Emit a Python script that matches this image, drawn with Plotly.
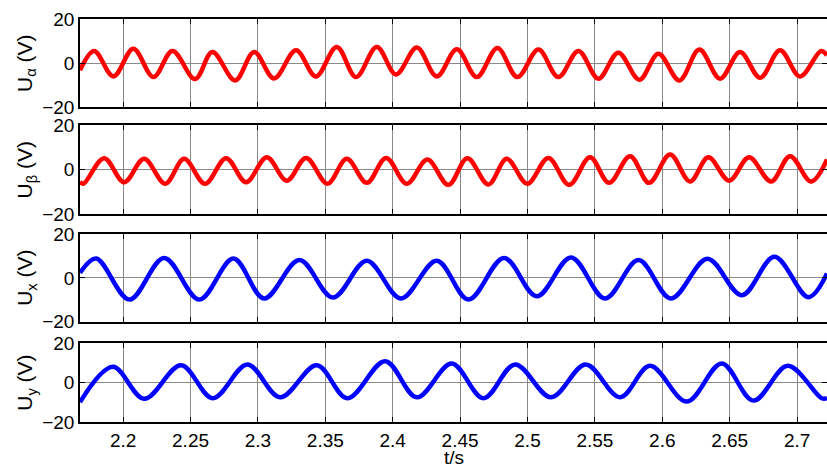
import plotly.graph_objects as go

# ---- data (time in s, voltage in V) ----
t_alpha = [2.1680, 2.1785, 2.1928, 2.2076, 2.2225, 2.2366, 2.2534, 2.2662, 2.2831, 2.2972,
           2.3120, 2.3283, 2.3430, 2.3585, 2.3728, 2.3882, 2.4025, 2.4179, 2.4327, 2.4476,
           2.4624, 2.4777, 2.4925, 2.5081, 2.5229, 2.5378, 2.5526, 2.5674, 2.5830, 2.5971,
           2.6127, 2.6275, 2.6429, 2.6577, 2.6726, 2.6874, 2.7022, 2.7178, 2.7222]
u_alpha = [-3.3, 5.5, -6.1, 6.5, -6.4, 5.5, -7.3, 5.0, -7.9, 5.0,
           -7.0, 5.8, -6.1, 7.3, -6.4, 7.3, -5.2, 7.0, -6.1, 6.2,
           -6.4, 6.8, -6.4, 6.1, -6.4, 5.5, -7.1, 4.7, -7.6, 4.2,
           -7.9, 6.1, -7.1, 5.0, -6.7, 5.8, -6.1, 5.5, 3.5]

t_beta = [2.1680, 2.1706, 2.1859, 2.2007, 2.2156, 2.2312, 2.2453, 2.2608, 2.2764, 2.2912,
          2.3066, 2.3214, 2.3358, 2.3516, 2.3659, 2.3808, 2.3951, 2.4105, 2.4257, 2.4413,
          2.4554, 2.4710, 2.4846, 2.4999, 2.5155, 2.5309, 2.5464, 2.5605, 2.5761, 2.5902,
          2.6058, 2.6206, 2.6342, 2.6496, 2.6644, 2.6807, 2.6948, 2.7104, 2.7222]
u_beta = [-5.5, -6.4, 5.1, -5.7, 4.8, -6.4, 4.8, -6.4, 5.1, -5.7,
          5.5, -5.0, 5.2, -6.4, 4.8, -6.0, 5.2, -6.4, 4.5, -6.9,
          5.1, -6.7, 4.8, -6.4, 5.2, -6.9, 5.5, -6.0, 6.0, -6.0,
          6.7, -5.4, 5.5, -5.0, 5.5, -5.4, 6.0, -5.4, 4.5]

t_x = [2.1680, 2.1800, 2.2047, 2.2304, 2.2566, 2.2818, 2.3046, 2.3308, 2.3556, 2.3808,
       2.4060, 2.4327, 2.4562, 2.4826, 2.5069, 2.5323, 2.5576, 2.5823, 2.6065, 2.6335,
       2.6590, 2.6832, 2.7084, 2.7222]
u_x = [2.3, 8.8, -9.9, 9.1, -9.9, 8.8, -9.4, 8.1, -9.0, 7.8,
       -9.4, 7.8, -9.9, 9.1, -8.4, 9.3, -9.4, 8.1, -9.4, 8.7,
       -7.9, 9.6, -8.8, 2.0]

t_y = [2.1680, 2.1924, 2.2156, 2.2430, 2.2665, 2.2922, 2.3165, 2.3437, 2.3664, 2.3944,
       2.4179, 2.4438, 2.4673, 2.4908, 2.5175, 2.5432, 2.5687, 2.5909, 2.6182, 2.6441,
       2.6676, 2.6931, 2.7183, 2.7222]
u_y = [-9.9, 8.1, -8.2, 8.9, -7.9, 9.3, -7.4, 8.9, -7.9, 11.0,
       -7.4, 9.8, -7.9, 9.3, -7.4, 9.3, -7.4, 8.6, -9.6, 9.8,
       -9.1, 8.6, -7.9, -7.9]

x_ticks = [2.2, 2.25, 2.3, 2.35, 2.4, 2.45, 2.5, 2.55, 2.6, 2.65, 2.7]
x_tick_text = ["2.2", "2.25", "2.3", "2.35", "2.4", "2.45", "2.5", "2.55", "2.6", "2.65", "2.7"]
y_ticks = [-20, 0, 20]
y_titles = ["U<sub>α</sub> (V)", "U<sub>β</sub> (V)", "U<sub>x</sub> (V)", "U<sub>y</sub> (V)"]
x_title = "t/s"

series = [(t_alpha, u_alpha, "#ff0000"), (t_beta, u_beta, "#ff0000"),
          (t_x, u_x, "#0000ff"), (t_y, u_y, "#0000ff")]
domains = [[0.7816, 1.0], [0.5161, 0.7370], [0.2489, 0.4665], [0.0, 0.1948]]

FONT = "Liberation Sans, Arial, sans-serif"
GRID = "#8a8a8a"

fig = go.Figure()
layout = dict(
    width=827, height=465,
    margin=dict(l=80, r=0, t=19, b=43, autoexpand=False),
    paper_bgcolor="white", plot_bgcolor="white",
    showlegend=False,
    font=dict(family=FONT, size=19, color="black"),
)

annotations = []
for i, (tx, uy, col) in enumerate(series):
    n = "" if i == 0 else str(i + 1)
    fig.add_trace(go.Scatter(x=tx, y=uy, mode="lines",
                             line=dict(color=col, width=4.5, shape="spline", smoothing=1.0),
                             xaxis="x" + n, yaxis="y" + n))
    last = (i == 3)
    layout["xaxis" + n] = dict(
        domain=[0, 1], anchor="y" + n, range=[2.168, 2.7222],
        tickvals=x_ticks, ticktext=x_tick_text, showticklabels=last,
        ticks="inside", ticklen=5, tickcolor="black", tickwidth=1,
        showgrid=True, gridcolor=GRID, gridwidth=1,
        showline=True, linecolor="black", linewidth=1.5, mirror="ticks",
        zeroline=False, automargin=False,
        tickfont=dict(size=19, family=FONT),
        **({} if i == 0 else {"matches": "x"}),
    )
    layout["yaxis" + n] = dict(
        domain=domains[i], anchor="x" + n, range=[-20, 20],
        tickvals=y_ticks, ticks="inside", ticklen=5, tickcolor="black",
        showgrid=True, gridcolor=GRID, gridwidth=1,
        zeroline=True, zerolinecolor=GRID, zerolinewidth=1,
        showline=True, linecolor="black", linewidth=1.5, mirror="ticks",
        automargin=False,
        tickfont=dict(size=19, family=FONT),
    )
    annotations.append(dict(
        text=y_titles[i], textangle=-90, xref="paper", yref="paper",
        x=-0.0723, y=(domains[i][0] + domains[i][1]) / 2,
        xanchor="center", yanchor="middle", showarrow=False,
        font=dict(size=21, family=FONT, color="black"),
    ))

annotations.append(dict(
    text=x_title, xref="paper", yref="paper", x=0.5, y=-0.089,
    xanchor="center", yanchor="middle", showarrow=False,
    font=dict(size=19, family=FONT, color="black"),
))
layout["annotations"] = annotations

fig.update_layout(**layout)
fig.write_html("out.html")
